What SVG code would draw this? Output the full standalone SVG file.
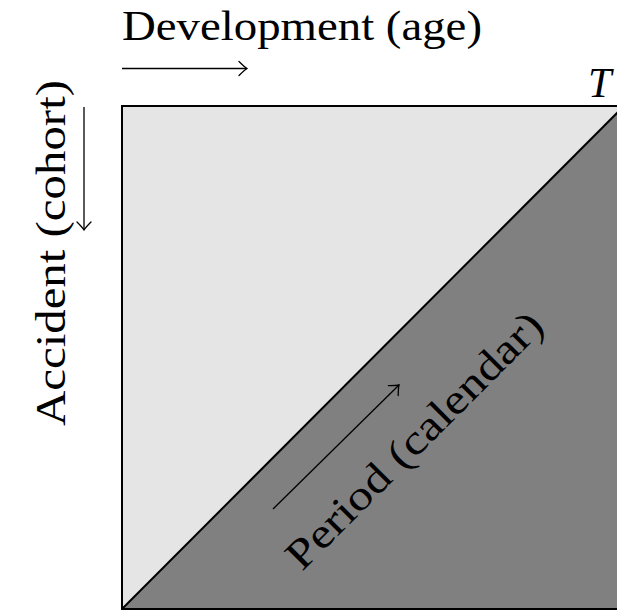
<svg xmlns="http://www.w3.org/2000/svg" width="617" height="611" viewBox="0 0 617 611">
  <style>
    .lbl { font-family: "Liberation Serif", "DejaVu Serif", serif; font-size: 42px; fill: #000; }
    .edge { stroke: #000; stroke-width: 2; fill: none; }
    .arr { stroke: #000; stroke-width: 1.3; fill: none; marker-end: url(#to); }
  </style>
  <defs>
    <marker id="to" markerUnits="userSpaceOnUse" viewBox="-10 -9 12 18" refX="0" refY="0" markerWidth="12" markerHeight="18" orient="auto" overflow="visible">
      <path d="M-8,-7 Q-2.5,-1.5 0,0 Q-2.5,1.5 -8,7" stroke="#000" stroke-width="1.3" fill="none" stroke-linecap="round"/>
    </marker>
  </defs>
  <rect width="617" height="611" fill="#fff"/>
  <g id="upper-region">
    <polygon points="122,106 624,106 122,609" fill="#e5e5e5"/>
  </g>
  <g id="lower-region">
    <polygon points="624,106 624,609 122,609" fill="#808080"/>
  </g>
  <g id="frame">
    <rect x="122" y="106" width="502" height="503" class="edge"/>
    <line x1="122" y1="609" x2="624" y2="106" class="edge"/>
  </g>
  <g id="labels">
    <text class="lbl" x="122" y="40" textLength="360" lengthAdjust="spacingAndGlyphs">Development (age)</text>
    <text class="lbl" transform="translate(65,426) rotate(-90)" textLength="346" lengthAdjust="spacingAndGlyphs">Accident (cohort)</text>
    <text class="lbl" transform="translate(302,572) rotate(-45)" textLength="345" lengthAdjust="spacingAndGlyphs">Period (calendar)</text>
    <text class="lbl" x="588" y="97" font-style="italic" font-size="46">T</text>
  </g>
  <g id="connectors">
    <line x1="122" y1="68.5" x2="247" y2="68.5" class="arr"/>
    <line x1="84" y1="107" x2="84" y2="230" class="arr"/>
    <line x1="273" y1="509" x2="399" y2="385" class="arr"/>
  </g>
</svg>
